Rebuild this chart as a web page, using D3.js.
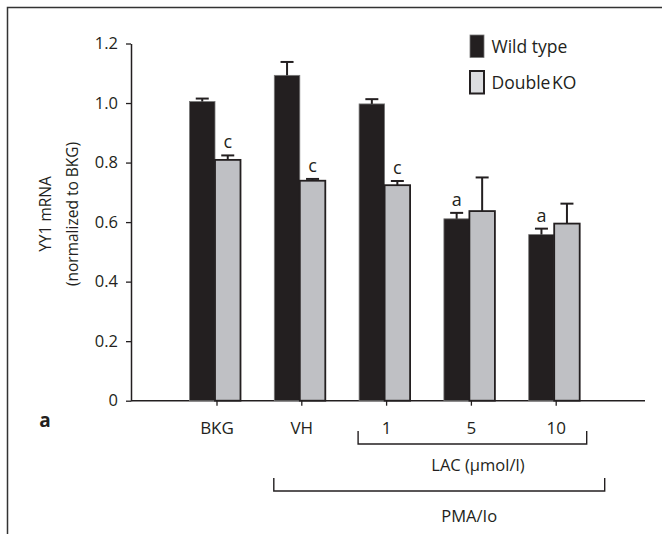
<!DOCTYPE html>
<html>
<head>
<meta charset="utf-8">
<script src="https://cdn.jsdelivr.net/npm/d3@7"></script>
<style>
  body { margin: 0; background: #fff; }
  svg { display: block; font-family: "Open Sans", sans-serif; }
</style>
</head>
<body>
<svg id="main" width="662" height="534"></svg>
<script>
    // values
    const categories = ["BKG", "VH", "1", "5", "10"];
    const series = ["Wild type", "Double KO"];
    const wildType = [1.005, 1.093, 0.997, 0.611, 0.558];
    const wildTypeErr = [0.01, 0.045, 0.016, 0.02, 0.02];
    const doubleKO = [0.809, 0.739, 0.724, 0.637, 0.595];
    const doubleKOErr = [0.015, 0.006, 0.014, 0.113, 0.067];
    const wildTypeSig = ["", "", "", "a", "a"];
    const doubleKOSig = ["c", "c", "c", "", ""];
    const yTicks = [0, 0.2, 0.4, 0.6, 0.8, 1.0, 1.2];

    const ink = "#231f20";
    const fills = ["#231f20", "#bfc0c4"];
    const legendFills = ["#231f20", "#dcdde0"];

    let svg = d3.select('svg#main')

    // frame (top + left)
    svg.append("path")
        .attr("d", "M7.5,534 V7.5 H662")
        .attr("fill", "none")
        .attr("stroke", "#333")
        .attr("stroke-width", 1.5)

    const yAx = d3.scaleLinear()
        .domain([0, 1.2])
        .range([400.7, 43.5]);

    const xAx = d3.scalePoint()
        .domain(categories)
        .range([216.5, 555.7]);

    const inner = d3.scaleBand()
        .domain(series)
        .range([-27, 24]);

    let dataSet = categories.map((c, i) => ({
        cat: c,
        vals: [
            {s: series[0], v: wildType[i], e: wildTypeErr[i], sig: wildTypeSig[i], k: 0},
            {s: series[1], v: doubleKO[i], e: doubleKOErr[i], sig: doubleKOSig[i], k: 1}
        ]
    }));

    // y axis
    const yG = svg.append("g")
        .attr("transform", "translate(131,0)")
        .call(d3.axisLeft(yAx).tickValues(yTicks)
            .tickFormat(d => d === 0 ? "0" : d3.format(".1f")(d))
            .tickSize(5).tickPadding(8).tickSizeOuter(0))
    yG.select(".domain").attr("stroke", ink).attr("stroke-width", 1.5)
    yG.selectAll(".tick line").attr("stroke", ink).attr("stroke-width", 1.3)
    yG.selectAll(".tick text").attr("fill", ink).style("font-size", "16.5px")
        .style("font-family", "Open Sans")

    // x axis baseline + ticks
    svg.append("line")
        .attr("x1", 131).attr("x2", 645)
        .attr("y1", yAx(0)).attr("y2", yAx(0))
        .attr("stroke", ink).attr("stroke-width", 1.5)

    const groups = svg.append("g").selectAll("g")
        .data(dataSet)
        .enter()
        .append("g")
        .attr("transform", d => `translate(${xAx(d.cat)},0)`)

    // bars
    groups.selectAll("rect")
        .data(d => d.vals)
        .enter()
        .append("rect")
        .attr("x", d => inner(d.s))
        .attr("width", inner.bandwidth())
        .attr("y", d => yAx(d.v))
        .attr("height", d => yAx(0) - yAx(d.v))
        .attr("fill", d => fills[d.k])
        .attr("stroke", d => d.k === 1 ? ink : "#777")
        .attr("stroke-width", d => d.k === 1 ? 1.8 : 0.8)

    // error bars
    const eb = groups.selectAll("g.err")
        .data(d => d.vals)
        .enter()
        .append("g")
        .attr("class", "err")
        .attr("transform", d => `translate(${inner(d.s) + inner.bandwidth() / 2},0)`)
    eb.append("line")
        .attr("y1", d => yAx(d.v)).attr("y2", d => yAx(d.v + d.e))
        .attr("stroke", ink).attr("stroke-width", 2)
    eb.append("line")
        .attr("x1", -6.5).attr("x2", 6.5)
        .attr("y1", d => yAx(d.v + d.e)).attr("y2", d => yAx(d.v + d.e))
        .attr("stroke", ink).attr("stroke-width", 2)
    eb.append("text")
        .attr("text-anchor", "middle")
        .attr("y", d => yAx(d.v + d.e) - 7)
        .style("font-size", "18px")
        .attr("fill", ink)
        .text(d => d.sig)

    // x ticks and labels
    const xG = svg.append("g")
        .attr("transform", `translate(0,${yAx(0)})`)
        .call(d3.axisBottom(xAx).tickSize(5).tickPadding(16).tickSizeOuter(0))
    xG.select(".domain").remove()
    xG.selectAll(".tick line").attr("stroke", ink).attr("stroke-width", 1.3)
    xG.selectAll(".tick text").attr("fill", ink).style("font-size", "17px")
        .style("font-family", "Open Sans")
        .attr("dy", "0.71em")

    // panel letter
    svg.append("text")
        .attr("x", 45).attr("y", 427)
        .attr("text-anchor", "middle")
        .style("font-size", "19px").style("font-weight", "bold")
        .attr("fill", ink)
        .text("a")

    // brackets
    const x1 = xAx("1"), x10 = xAx("10"), xVH = xAx("VH");
    svg.append("path")
        .attr("d", `M${x1 - 28},431 V444 H${x10 + 31} V431`)
        .attr("fill", "none").attr("stroke", ink).attr("stroke-width", 1.4)
    svg.append("text")
        .attr("x", (x1 + x10) / 2 + 7).attr("y", 471)
        .attr("text-anchor", "middle")
        .style("font-size", "16.5px").attr("fill", ink)
        .text("LAC (µmol/l)")
    svg.append("path")
        .attr("d", `M${xVH - 27.5},478 V491 H${x10 + 49} V478`)
        .attr("fill", "none").attr("stroke", ink).attr("stroke-width", 1.4)
    svg.append("text")
        .attr("x", (xVH - 27.5 + x10 + 49) / 2 + 30).attr("y", 522)
        .attr("text-anchor", "middle")
        .style("font-size", "16.5px").attr("fill", ink)
        .text("PMA/Io")

    // y label
    const yl = svg.append("text")
        .attr("transform", "translate(0,214) rotate(-90)")
        .attr("text-anchor", "middle")
        .style("font-size", "15.5px").attr("fill", ink)
    yl.append("tspan").attr("x", 0).attr("y", 51).text("YY1 mRNA")
    yl.append("tspan").attr("x", 0).attr("y", 78).text("(normalized to BKG)")

    // legend
    const legend = svg.append("g")
        .attr("class", "legend")
        .selectAll("g")
        .data(series)
        .enter()
        .append("g")
        .attr("transform", (d, i) => `translate(470,${35 + i * 36})`)
    legend.append("rect")
        .attr("width", 14).attr("height", 22.5)
        .attr("fill", (d, i) => legendFills[i])
        .attr("stroke", (d, i) => i === 1 ? ink : "#777")
        .attr("stroke-width", (d, i) => i === 1 ? 2 : 0.8)
    legend.append("text")
        .attr("x", 21.5).attr("y", 18.3)
        .style("font-size", "17.5px").attr("fill", ink)
        .style("word-spacing", (d, i) => i === 1 ? "-3px" : "0px")
        .text(d => d)
</script>
</body>
</html>
